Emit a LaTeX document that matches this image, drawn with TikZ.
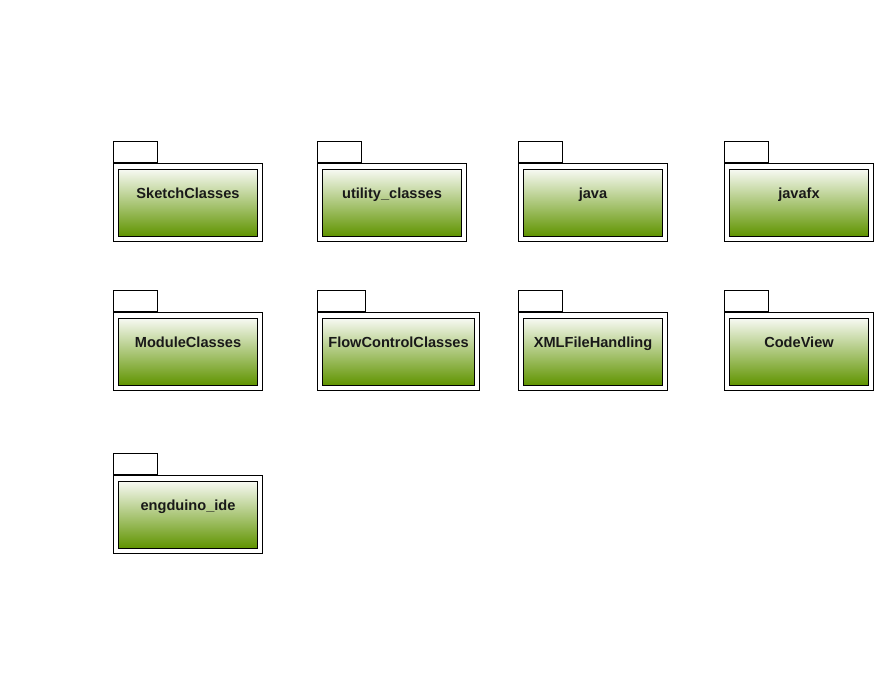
\documentclass[tikz,border=0pt]{standalone}
\usepackage{fontspec}
\setmainfont{Liberation Sans}
\usetikzlibrary{positioning}

\definecolor{pkggreen}{RGB}{96,148,0}
\definecolor{pkgtop}{RGB}{248,250,244}

\tikzset{
	pkgbody/.style={draw, line width=1pt, fill=white, inner sep=0pt, minimum height=78pt, anchor=north west},
	pkgtab/.style={draw, line width=1pt, fill=white, inner sep=0pt, minimum width=44pt, minimum height=21pt, anchor=south west},
	pkginner/.style={draw, line width=1pt, inner sep=0pt, minimum height=67pt, top color=pkgtop, bottom color=pkggreen},
	pkgname/.style={font=\bfseries\fontsize{14.6}{16}\selectfont, text=black!90, inner sep=0pt, anchor=base},
}

\begin{document}
\begin{tikzpicture}[x=1pt,y=-1pt]
	\useasboundingbox (0,0) rectangle (874,690);

		% first row
		\node[pkgbody, minimum width=149pt] (sketch) at (113,163) {};
		\node[pkgtab] (sketchtab) at (sketch.north west) {};
		\node[pkginner, minimum width=139pt] (sketchin) at (sketch.center) {};
		\node[pkgname] (sketchname) at ([yshift=-30pt]sketchin.north) {SketchClasses};

		\node[pkgbody, minimum width=149pt] (utility) at (317,163) {};
		\node[pkgtab] (utilitytab) at (utility.north west) {};
		\node[pkginner, minimum width=139pt] (utilityin) at (utility.center) {};
		\node[pkgname] (utilityname) at ([yshift=-30pt]utilityin.north) {utility\_classes};

		\node[pkgbody, minimum width=149pt] (java) at (518,163) {};
		\node[pkgtab] (javatab) at (java.north west) {};
		\node[pkginner, minimum width=139pt] (javain) at (java.center) {};
		\node[pkgname] (javaname) at ([yshift=-30pt]javain.north) {java};

		\node[pkgbody, minimum width=149pt] (javafx) at (724,163) {};
		\node[pkgtab] (javafxtab) at (javafx.north west) {};
		\node[pkginner, minimum width=139pt] (javafxin) at (javafx.center) {};
		\node[pkgname] (javafxname) at ([yshift=-30pt]javafxin.north) {javafx};

		% second row
		\node[pkgbody, minimum width=149pt] (module) at (113,312) {};
		\node[pkgtab] (moduletab) at (module.north west) {};
		\node[pkginner, minimum width=139pt] (modulein) at (module.center) {};
		\node[pkgname] (modulename) at ([yshift=-30pt]modulein.north) {ModuleClasses};

		\node[pkgbody, minimum width=162pt] (flow) at (317,312) {};
		\node[pkgtab, minimum width=48pt] (flowtab) at (flow.north west) {};
		\node[pkginner, minimum width=152pt] (flowin) at (flow.center) {};
		\node[pkgname] (flowname) at ([yshift=-30pt]flowin.north) {FlowControlClasses};

		\node[pkgbody, minimum width=149pt] (xml) at (518,312) {};
		\node[pkgtab] (xmltab) at (xml.north west) {};
		\node[pkginner, minimum width=139pt] (xmlin) at (xml.center) {};
		\node[pkgname] (xmlname) at ([yshift=-30pt]xmlin.north) {XMLFileHandling};

		\node[pkgbody, minimum width=149pt] (codeview) at (724,312) {};
		\node[pkgtab] (codeviewtab) at (codeview.north west) {};
		\node[pkginner, minimum width=139pt] (codeviewin) at (codeview.center) {};
		\node[pkgname] (codeviewname) at ([yshift=-30pt]codeviewin.north) {CodeView};

		% third row
		\node[pkgbody, minimum width=149pt] (ide) at (113,475) {};
		\node[pkgtab] (idetab) at (ide.north west) {};
		\node[pkginner, minimum width=139pt] (idein) at (ide.center) {};
		\node[pkgname] (idename) at ([yshift=-30pt]idein.north) {engduino\_ide};

\end{tikzpicture}
\end{document}
